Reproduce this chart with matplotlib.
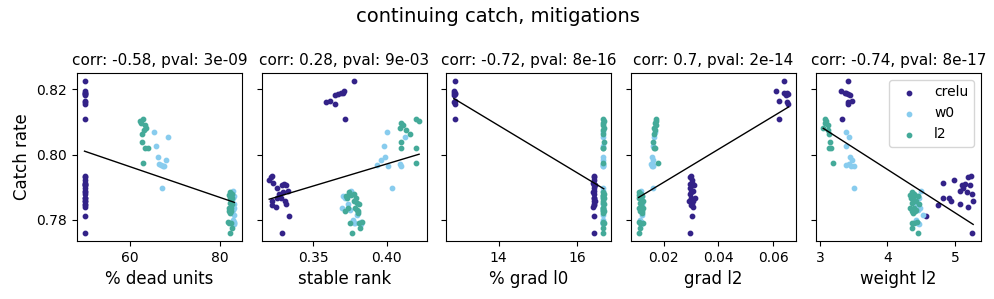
import numpy as np
import matplotlib.pyplot as plt

# catch rate per run, grouped by mitigation
crelu_catch = [0.8227, 0.8195, 0.8190, 0.8188, 0.8185, 0.8182, 0.8164, 0.8161, 0.8154, 0.8108,
               0.7936, 0.7933, 0.7923, 0.7913, 0.7910, 0.7908, 0.7906, 0.7898, 0.7889, 0.7887,
               0.7879, 0.7867, 0.7867, 0.7859, 0.7859, 0.7849, 0.7847, 0.7840, 0.7812, 0.7760]
w0_catch = [0.8071, 0.8054, 0.8028, 0.7993, 0.7985, 0.7972, 0.7968, 0.7966, 0.7964, 0.7898,
            0.7890, 0.7872, 0.7867, 0.7850, 0.7836, 0.7831, 0.7815, 0.7800, 0.7795, 0.7791,
            0.7790, 0.7788]
l2_catch = [0.8108, 0.8103, 0.8098, 0.8090, 0.8082, 0.8075, 0.8064, 0.8040, 0.8022, 0.8020, 0.7974,
            0.7887, 0.7880, 0.7877, 0.7874, 0.7867, 0.7867, 0.7859, 0.7851, 0.7849, 0.7836,
            0.7836, 0.7831, 0.7826, 0.7826, 0.7820, 0.7795, 0.7792, 0.7790, 0.7776, 0.7759]

# % dead units
crelu_dead = [50.0, 50.0, 50.0, 50.0, 50.0, 50.0, 50.0, 50.0, 50.0, 50.0,
              50.0, 50.0, 50.0, 50.0, 50.0, 50.0, 50.0, 50.0, 50.0, 50.0,
              50.0, 50.0, 50.0, 50.0, 50.0, 50.0, 50.0, 50.0, 50.0, 50.0]
w0_dead = [65.4, 68.4, 65.8, 66.2, 68.1, 66.4, 66.9, 67.4, 67.7, 67.2,
           82.8, 83.0, 82.9, 83.1, 83.0, 82.8, 83.2, 82.9, 83.0, 83.1, 82.7, 83.0]
l2_dead = [62.9, 62.2, 62.5, 63.3, 63.6, 63.1, 62.7, 62.8, 63.5, 64.0, 63.0,
           82.3, 82.6, 82.1, 82.4, 82.7, 82.2, 82.5, 82.3, 82.6, 82.0,
           82.4, 82.2, 81.9, 82.5, 82.3, 81.8, 82.1, 82.4, 82.6, 82.2]

# stable rank
crelu_srank = [0.3779, 0.3709, 0.3703, 0.3692, 0.3667, 0.3650, 0.3613, 0.3590, 0.3649, 0.3716,
               0.3222, 0.3211, 0.3200, 0.3227, 0.3300, 0.3290, 0.3313, 0.3256, 0.3329, 0.3295,
               0.3268, 0.3250, 0.3279, 0.3222, 0.3308, 0.3317, 0.3218, 0.3245, 0.3335, 0.3290]
w0_srank = [0.4004, 0.4128, 0.3981, 0.3991, 0.3963, 0.4094, 0.3932, 0.4101, 0.4010, 0.4033,
            0.3760, 0.3703, 0.3718, 0.3740, 0.3696, 0.3752, 0.3800, 0.3770, 0.3824, 0.3775,
            0.3786, 0.3826]
l2_srank = [0.4203, 0.4221, 0.4100, 0.4111, 0.4090, 0.4130, 0.4160, 0.4097, 0.4101, 0.4200, 0.4198,
            0.3741, 0.3779, 0.3757, 0.3723, 0.3793, 0.3730, 0.3775, 0.3797, 0.3815, 0.3734,
            0.3786, 0.3797, 0.3718, 0.3808, 0.3808, 0.3831, 0.3815, 0.3748, 0.3820, 0.3763]

# % grad l0
crelu_gl0 = [12.88, 12.87, 12.89, 12.86, 12.88, 12.87, 12.88, 12.86, 12.89, 12.88,
             16.43, 16.42, 16.44, 16.41, 16.43, 16.45, 16.42, 16.44, 16.43, 16.41,
             16.44, 16.42, 16.43, 16.45, 16.42, 16.44, 16.43, 16.41, 16.43, 16.42]
w0_gl0 = [16.65, 16.66, 16.65, 16.67, 16.66, 16.65, 16.66, 16.67, 16.65, 16.66,
          16.66, 16.65, 16.67, 16.66, 16.65, 16.66, 16.67, 16.66, 16.65, 16.66, 16.67, 16.66]
l2_gl0 = [16.67, 16.68, 16.67, 16.66, 16.68, 16.67, 16.66, 16.68, 16.67, 16.67, 16.66,
          16.67, 16.68, 16.66, 16.67, 16.68, 16.67, 16.66, 16.67, 16.68, 16.67,
          16.66, 16.67, 16.68, 16.67, 16.66, 16.67, 16.68, 16.67, 16.66, 16.67]

# grad l2
crelu_gl2 = [0.0637, 0.0611, 0.0640, 0.0649, 0.0655, 0.0646, 0.0619, 0.0649, 0.0652, 0.0620,
             0.0300, 0.0296, 0.0302, 0.0305, 0.0298, 0.0310, 0.0303, 0.0295, 0.0308, 0.0301,
             0.0297, 0.0313, 0.0299, 0.0306, 0.0292, 0.0304, 0.0300, 0.0309, 0.0302, 0.0298]
w0_gl2 = [0.0168, 0.0166, 0.0160, 0.0158, 0.0162, 0.0155, 0.0160, 0.0163, 0.0157, 0.0162,
          0.0118, 0.0120, 0.0115, 0.0122, 0.0117, 0.0119, 0.0121, 0.0116, 0.0118, 0.0120,
          0.0123, 0.0117]
l2_gl2 = [0.0172, 0.0174, 0.0169, 0.0171, 0.0166, 0.0168, 0.0164, 0.0163, 0.0165, 0.0167, 0.0178,
          0.0112, 0.0118, 0.0110, 0.0121, 0.0115, 0.0109, 0.0124, 0.0113, 0.0119, 0.0126,
          0.0111, 0.0117, 0.0122, 0.0114, 0.0120, 0.0110, 0.0125, 0.0116, 0.0113, 0.0112]

# weight l2
crelu_wl2 = [3.41, 3.32, 3.37, 3.39, 3.42, 3.45, 3.47, 3.42, 3.41, 3.33,
             5.24, 5.20, 4.98, 4.83, 5.15, 5.22, 5.10, 5.12, 5.07, 5.18,
             5.25, 4.91, 4.82, 5.27, 4.94, 5.07, 4.75, 5.20, 4.57, 5.25]
w0_wl2 = [3.39, 3.43, 3.39, 3.45, 3.47, 3.43, 3.39, 3.50, 3.46, 3.50,
          4.49, 4.46, 4.47, 4.44, 4.48, 4.45, 4.52, 4.43, 4.42, 4.46, 4.44, 4.47]
l2_wl2 = [3.08, 3.09, 3.07, 3.12, 3.05, 3.12, 3.13, 3.15, 3.13, 3.17, 3.19,
          4.36, 4.40, 4.33, 4.45, 4.38, 4.35, 4.42, 4.37, 4.47, 4.34,
          4.39, 4.43, 4.36, 4.41, 4.38, 4.44, 4.37, 4.40, 4.36, 4.46]

methods = ["crelu", "w0", "l2"]
colors = ["#332288", "#88CCEE", "#44AA99"]
xlabels = ["% dead units", "stable rank", "% grad l0", "grad l2", "weight l2"]
titles = ["corr: -0.58, pval: 3e-09", "corr: 0.28, pval: 9e-03", "corr: -0.72, pval: 8e-16",
          "corr: 0.7, pval: 2e-14", "corr: -0.74, pval: 8e-17"]
ytick_vals = [0.78, 0.80, 0.82]
grad_l2_ticks = [0.02, 0.04, 0.06]

catch = {"crelu": crelu_catch, "w0": w0_catch, "l2": l2_catch}
metrics = [
    {"crelu": crelu_dead, "w0": w0_dead, "l2": l2_dead},
    {"crelu": crelu_srank, "w0": w0_srank, "l2": l2_srank},
    {"crelu": crelu_gl0, "w0": w0_gl0, "l2": l2_gl0},
    {"crelu": crelu_gl2, "w0": w0_gl2, "l2": l2_gl2},
    {"crelu": crelu_wl2, "w0": w0_wl2, "l2": l2_wl2},
]

fig, axes = plt.subplots(1, 5, figsize=(9.95, 2.99), sharey=True)

for i, ax in enumerate(axes):
    all_x, all_y = [], []
    for name, color in zip(methods, colors):
        x = metrics[i][name]
        y = catch[name]
        ax.scatter(x, y, s=10, color=color, label=name)
        all_x += x
        all_y += y

    # linear fit over all runs
    all_x = np.array(all_x)
    all_y = np.array(all_y)
    coef = np.polyfit(all_x, all_y, 1)
    xx = np.array([all_x.min(), all_x.max()])
    ax.plot(xx, np.polyval(coef, xx), color="k", linewidth=1)

    ax.set_title(titles[i], fontsize=11)
    ax.set_xlabel(xlabels[i], fontsize=12)

axes[0].set_yticks(ytick_vals)
axes[3].set_xticks(grad_l2_ticks)
axes[0].set_ylabel("Catch rate", fontsize=12)
axes[-1].legend(loc="upper right")

fig.suptitle("continuing catch, mitigations", fontsize=14, y=0.975)
fig.subplots_adjust(left=0.0774, right=0.9856, top=0.756, bottom=0.194, wspace=0.12)
fig.savefig("out.png", dpi=100)
